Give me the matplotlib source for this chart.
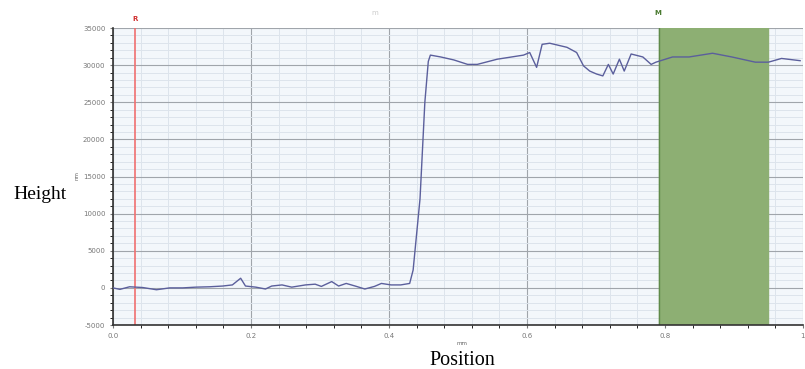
import matplotlib.pyplot as plt
from matplotlib.ticker import MultipleLocator

plt.rcParams['axes.unicode_minus'] = False

# profile (position in mm, height in nm)
pos = [0.000, 0.010, 0.024, 0.043, 0.063, 0.082, 0.101, 0.120, 0.140, 0.159,
       0.173, 0.185, 0.192, 0.207, 0.221, 0.230, 0.245, 0.259, 0.279, 0.293,
       0.302, 0.317, 0.327, 0.338, 0.351, 0.365, 0.379, 0.389, 0.403, 0.417,
       0.430, 0.435, 0.445, 0.452, 0.457, 0.460, 0.475, 0.494, 0.514, 0.528,
       0.557, 0.595, 0.604, 0.614, 0.622, 0.633, 0.658, 0.672, 0.682, 0.691,
       0.701, 0.710, 0.718, 0.725, 0.734, 0.741, 0.751, 0.768, 0.780, 0.787,
       0.811, 0.835, 0.869, 0.897, 0.931, 0.950, 0.969, 0.996]
height = [0, -200, 150, 50, -250, 0, 0, 100, 150, 250,
          400, 1300, 250, 100, -150, 250, 400, 100, 400, 500,
          200, 850, 250, 600, 250, -150, 200, 600, 400, 400,
          600, 2400, 12000, 25000, 30500, 31350, 31100, 30700, 30100, 30100,
          30800, 31350, 31700, 29700, 32800, 32950, 32400, 31700, 29900, 29200,
          28800, 28550, 30100, 28800, 30800, 29200, 31500, 31100, 30100, 30400,
          31100, 31100, 31600, 31100, 30400, 30400, 30900, 30600]

marker_r = 0.032
band_m = (0.791, 0.950)
xticks = [0.0, 0.2, 0.4, 0.6, 0.8, 1.0]
xtick_labels = ['0.0', '0.2', '0.4', '0.6', '0.8', '1']

fig = plt.figure(figsize=(8.05, 3.69), dpi=100)
ax = fig.add_axes([0.1404, 0.1192, 0.857, 0.8049])
ax.set_facecolor('#f3f7fb')

ax.axvspan(band_m[0], band_m[1], color='#8daf73', zorder=1)
ax.axvline(band_m[0], color='#5f8a4a', lw=1, zorder=1.5)
ax.axvline(marker_r, color='#f07070', lw=1.2, zorder=2)
ax.plot(pos, height, color='#5b5f9c', lw=1.0, zorder=3)

ax.set_xlim(0, 1.0)
ax.set_ylim(-5000, 35000)
ax.set_xticks(xticks)
ax.set_xticklabels(xtick_labels)
ax.xaxis.set_minor_locator(MultipleLocator(0.04))
ax.yaxis.set_major_locator(MultipleLocator(5000))
ax.yaxis.set_minor_locator(MultipleLocator(1000))
ax.grid(which='major', color='#a0a5ab', lw=0.8, zorder=0)
ax.grid(which='minor', color='#dde4ec', lw=0.7, zorder=0)
ax.set_axisbelow(True)
ax.tick_params(labelsize=5, colors='#777777', length=2)
for s in ['top', 'right']:
    ax.spines[s].set_visible(False)
for s in ['left', 'bottom']:
    ax.spines[s].set_color('#333333')
    ax.spines[s].set_linewidth(1.2)

ax.text(marker_r, 35900, 'R', color='#d03030', fontsize=5, fontweight='bold', ha='center')
ax.text(0.79, 36800, 'M', color='#4a7a30', fontsize=5, fontweight='bold', ha='center')
ax.text(0.38, 36800, 'm', color='#cccccc', fontsize=5, ha='center')

fig.text(0.096, 0.525, 'nm', rotation=90, fontsize=4, color='#666666', ha='center', va='center')
fig.text(0.574, 0.068, 'mm', fontsize=4, color='#666666', ha='center', va='center')
fig.text(0.05, 0.472, 'Height', family='Liberation Serif', fontsize=14, ha='center', va='center')
fig.text(0.574, 0.022, 'Position', family='Liberation Serif', fontsize=14.5, ha='center', va='center')

fig.savefig('out.png', dpi=100)
